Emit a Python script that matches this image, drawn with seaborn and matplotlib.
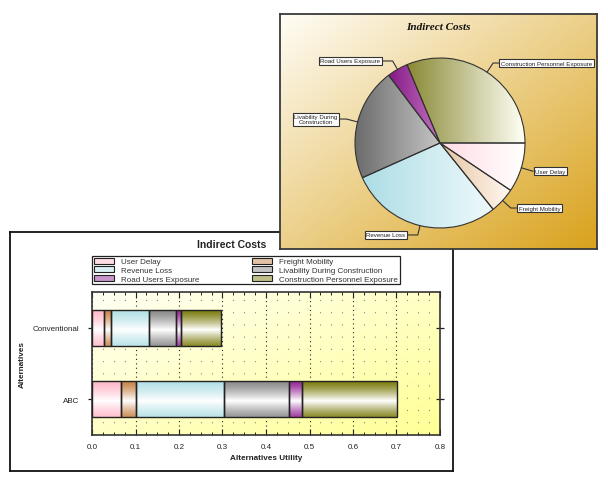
import numpy as np
import matplotlib
matplotlib.use("Agg")
import matplotlib.pyplot as plt
import seaborn as sns
from matplotlib.colors import to_rgb
from matplotlib.patches import Patch
from matplotlib.ticker import MultipleLocator

# ---------------- data ----------------
categories = ["Conventional", "ABC"]
components = ["User Delay", "Freight Mobility", "Revenue Loss",
              "Livability During Construction", "Road Users Exposure",
              "Construction Personnel Exposure"]
conventional_vals = [0.028, 0.015, 0.087, 0.062, 0.013, 0.092]
abc_vals = [0.066, 0.034, 0.204, 0.150, 0.028, 0.220]
pie_labels = ["User Delay", "Freight Mobility", "Revenue Loss",
              "Livability During\nConstruction", "Road Users Exposure",
              "Construction Personnel Exposure"]
pie_vals = [0.066, 0.034, 0.204, 0.150, 0.028, 0.220]
x_ticks = [0.0, 0.1, 0.2, 0.3, 0.4, 0.5, 0.6, 0.7, 0.8]
x_tick_labels = ["0.0", "0.1", "0.2", "0.3", "0.4", "0.5", "0.6", "0.7", "0.8"]

# ---------------- style ----------------
bar_colors = ["#FFB8C8", "#C8844A", "#B2E0E6", "#8A8A8A", "#962896", "#7E7E12"]
pie_grads = [("#FFDCE4", "#FFFFFF"), ("#E6C4A2", "#FFF8F0"), ("#ADDDE5", "#EEF9FB"),
             ("#6C6C6C", "#C4C4C4"), ("#861A86", "#C474C4"), ("#8A8A36", "#FFFFF6")]

sns.set_style("ticks")
plt.rcParams["font.family"] = ["Liberation Sans", "DejaVu Sans"]

W, H = 608, 481
fig = plt.figure(figsize=(W / 100, H / 100), dpi=100)


def fr(x0, y0, x1, y1):
    return [x0 / W, 1 - y1 / H, (x1 - x0) / W, (y1 - y0) / H]


def diag(c0, c1, n=200):
    c0 = np.array(to_rgb(c0)); c1 = np.array(to_rgb(c1))
    X, Y = np.meshgrid(np.linspace(0, 1, n), np.linspace(0, 1, n))
    t = ((X + Y) / 2)[..., None]
    return c0 * (1 - t) + c1 * t


def vgrad(c, n=64):
    t = np.linspace(0, 1, n)
    w = np.clip(1 - np.abs(t - 0.55) / 0.55, 0, 1) ** 1.3
    c = np.array(to_rgb(c))
    img = c[None, :] * (1 - w[:, None]) + w[:, None]
    return img[:, None, :]


def hgrad(cl, cr, n=64):
    cl = np.array(to_rgb(cl)); cr = np.array(to_rgb(cr))
    t = np.linspace(0, 1, n)[:, None]
    img = cl * (1 - t) + cr * t
    return img[None, :, :]


def lighten(c, f=0.5):
    c = np.array(to_rgb(c))
    return tuple(c * (1 - f) + f)


# ---------------- bar panel ----------------
ax_panel = fig.add_axes(fr(10, 233, 453, 472))
ax_panel.set_facecolor("white")
ax_panel.set_xticks([]); ax_panel.set_yticks([])
for s in ax_panel.spines.values():
    s.set_color("#111111"); s.set_linewidth(1.3); s.set_visible(True)

ax_bg = fig.add_axes(fr(92, 293, 440, 436))
ax_bg.imshow(diag("#FFFFF4", "#FFFF96"), extent=(0, 1, 0, 1), aspect="auto",
             interpolation="bilinear")
ax_bg.axis("off")

ax = fig.add_axes(fr(92, 293, 440, 436))
ax.patch.set_alpha(0)
lefts = np.zeros(len(categories))
for i, comp in enumerate(components):
    vals = np.array([conventional_vals[i], abc_vals[i]])
    n0 = len(ax.patches)
    sns.barplot(x=vals, y=categories, orient="h", width=0.5, left=lefts,
                color=bar_colors[i], edgecolor="#222222", linewidth=1.0,
                errorbar=None, ax=ax)
    for p in ax.patches[n0:]:
        bb = p.get_bbox()
        im = ax.imshow(vgrad(bar_colors[i]), extent=(bb.x0, bb.x1, bb.y1, bb.y0),
                       aspect="auto", interpolation="bilinear", zorder=2, origin="upper")
        im.set_clip_path(p)
        p.set_facecolor("none")
        p.set_zorder(3)
    lefts = lefts + vals

ax.set_xlim(0, 0.8)
ax.set_ylim(1.5, -0.5)
ax.set_xticks(x_ticks)
ax.set_xticklabels(x_tick_labels)
ax.xaxis.set_minor_locator(MultipleLocator(0.025))
ax.tick_params(axis="x", which="major", direction="in", length=4, width=0.8,
               top=True, bottom=True, pad=6, labelsize=5.8, labelcolor="#222222",
               color="#222222")
ax.tick_params(axis="x", which="minor", direction="in", length=2, width=0.7,
               top=True, bottom=True, color="#222222")
ax.tick_params(axis="y", direction="inout", length=6, width=0.9, left=True,
               right=True, pad=6, labelsize=5.8, labelcolor="#222222", color="#222222")
ax.set_axisbelow(True)
ax.grid(axis="x", which="major", color="#222222", linestyle=(0, (1, 3)), lw=0.8)
ax.grid(axis="x", which="minor", color="#888888", linestyle=(0, (1, 10)), lw=0.8)
for s in ax.spines.values():
    s.set_visible(True); s.set_color("#333333"); s.set_linewidth(1.2)
ax.set_xlabel("Alternatives Utility", fontsize=5.9, fontweight="bold", labelpad=3,
              color="#222222")
ax.set_ylabel("Alternatives", fontsize=5.9, fontweight="bold", labelpad=5,
              color="#222222")

order = [0, 2, 4, 1, 3, 5]
handles = [Patch(facecolor=lighten(bar_colors[i]), edgecolor="#222222", linewidth=0.8,
                 label=components[i]) for i in order]
leg = ax.legend(handles=handles, loc="upper left", bbox_to_anchor=(92 / W, 1 - 257 / H),
                bbox_transform=fig.transFigure, ncol=2, fontsize=5.8, frameon=True,
                fancybox=False, edgecolor="#222222", framealpha=1, borderpad=0.2,
                labelspacing=0.1, handlelength=2.5, handleheight=0.75,
                handletextpad=0.9, columnspacing=6.5, borderaxespad=0)
leg.get_frame().set_linewidth(0.9)
for t in leg.get_texts():
    t.set_color("#333333")

fig.text(232 / W, 1 - 245 / H, "Indirect Costs", fontsize=7.5, fontweight="bold",
         ha="center", va="center", color="#222222")

# ---------------- pie panel ----------------
ax_pp = fig.add_axes(fr(280, 15, 597, 250))
ax_pp.imshow(diag("#FFFDF6", "#D9A21C"), extent=(0, 1, 0, 1), aspect="auto",
             interpolation="bilinear")
ax_pp.set_xticks([]); ax_pp.set_yticks([])
for s in ax_pp.spines.values():
    s.set_visible(True); s.set_color("#3a3a3a"); s.set_linewidth(1.3)

ax_pie = fig.add_axes(fr(355, 59, 525, 229))
wedges, _ = ax_pie.pie(pie_vals, startangle=0, counterclock=False, radius=1,
                       wedgeprops=dict(edgecolor="#333333", linewidth=0.8))
for w, (cl, cr) in zip(wedges, pie_grads):
    ext = w.get_path().get_extents()
    im = ax_pie.imshow(hgrad(cl, cr), extent=(ext.x0, ext.x1, ext.y0, ext.y1),
                       aspect="auto", interpolation="bilinear", zorder=1.5)
    im.set_clip_path(w)
    w.set_facecolor("none")
    w.set_zorder(2)
ax_pie.set_xlim(-1, 1); ax_pie.set_ylim(-1, 1)
ax_pie.set_aspect("equal")
ax_pie.axis("off")

label_pos = [(1.30, -0.33), (1.17, -0.765), (-0.635, -1.082), (-1.46, 0.282),
             (-1.053, 0.965), (1.253, 0.941)]
for w, lab, pos in zip(wedges, pie_labels, label_pos):
    middeg = (w.theta1 + w.theta2) / 2
    mid = np.deg2rad(middeg)
    ax_pie.annotate(lab, xy=(np.cos(mid), np.sin(mid)), xytext=pos, textcoords="data",
                    ha="center", va="center", fontsize=4.4, color="#222222",
                    linespacing=1.0,
                    bbox=dict(boxstyle="square,pad=0.25", fc="white", ec="#333333", lw=0.8),
                    arrowprops=dict(arrowstyle="-", color="#333333", lw=0.8,
                                    shrinkA=0, shrinkB=0,
                                    connectionstyle=f"angle,angleA=0,angleB={middeg},rad=0"),
                    annotation_clip=False, zorder=4)

fig.text(438 / W, 1 - 28 / H, "Indirect Costs", fontsize=8, fontweight="bold",
         fontstyle="italic", family=["Liberation Serif", "DejaVu Serif"],
         ha="center", va="center", color="#111111")

fig.savefig("out.png", dpi=100)
